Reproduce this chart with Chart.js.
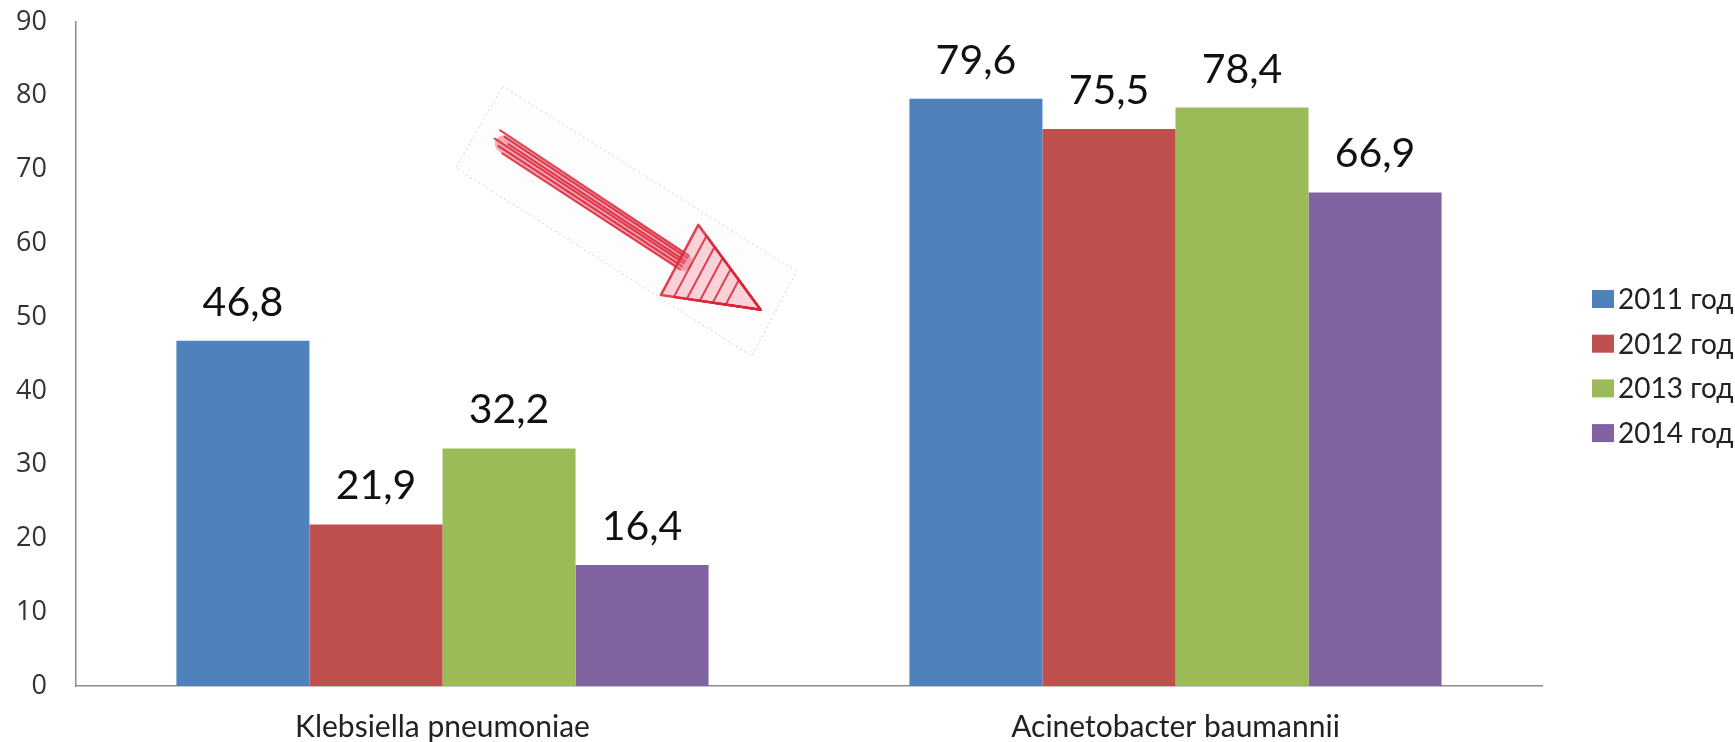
<!DOCTYPE html>
<html>
<head>
<meta charset="utf-8">
<script src="https://cdn.jsdelivr.net/npm/chart.js@4.4.1/dist/chart.umd.min.js"></script>
<style>
    html, body { margin: 0 ; padding: 0 ; background: #ffffff ; }
    #wrap { width: 1735px ; height: 742px ; position: relative ; }
</style>
</head>
<body>
<div id="wrap"><canvas id="barChartCanvas"></canvas></div>
<script>
// ---------------- Chart data -------------------------------------------------
var categories   = [ 'Klebsiella pneumoniae', 'Acinetobacter baumannii' ] ;
var seriesNames  = [ '2011 год', '2012 год', '2013 год', '2014 год' ] ;
var values2011   = [ 46.8, 79.6 ] ;
var values2012   = [ 21.9, 75.5 ] ;
var values2013   = [ 32.2, 78.4 ] ;
var values2014   = [ 16.4, 66.9 ] ;
var yTickValues  = [ 0, 10, 20, 30, 40, 50, 60, 70, 80, 90 ] ;

var seriesColors = [ '#4f81bd', '#c0504d', '#9bbb59', '#8064a2' ] ;

// ---------------- Dataset creation -------------------------------------------
function getDataset( idx, values ) {
    return {
        label           : seriesNames[ idx ],
        data            : values,
        backgroundColor : seriesColors[ idx ],
        borderWidth     : 0,
        categoryPercentage : 0.726,
        barPercentage   : 1.0
    } ;
}

// ---------------- Plugins ----------------------------------------------------
// value labels above the bars ( decimal comma )
var valueLabels = {
    id : 'valueLabels',
    afterDatasetsDraw : function( chart ) {
        var ctx = chart.ctx ;
        ctx.save() ;
        ctx.font = '41px Lato' ;
        ctx.fillStyle = '#111111' ;
        ctx.textAlign = 'center' ;
        ctx.textBaseline = 'alphabetic' ;
        chart.data.datasets.forEach( function( ds, i ) {
            var meta = chart.getDatasetMeta( i ) ;
            meta.data.forEach( function( bar, j ) {
                var txt = ds.data[ j ].toFixed( 1 ).replace( '.', ',' ) ;
                ctx.fillText( txt, bar.x, bar.y - 25 ) ;
            } ) ;
        } ) ;
        ctx.restore() ;
    }
} ;

// legend on the right, drawn from the datasets
var sideLegend = {
    id : 'sideLegend',
    afterDraw : function( chart ) {
        var ctx = chart.ctx ;
        var area = chart.chartArea ;
        ctx.save() ;
        ctx.font = '28px Lato' ;
        ctx.textBaseline = 'middle' ;
        chart.data.datasets.forEach( function( ds, i ) {
            var rowY = area.top + 277 + i * 44.7 ;
            var boxX = area.right + 50 ;
            ctx.fillStyle = ds.backgroundColor ;
            ctx.fillRect( boxX, rowY - 9, 22, 18 ) ;
            ctx.fillStyle = '#222222' ;
            ctx.fillText( ds.label, boxX + 26, rowY + 1 ) ;
        } ) ;
        ctx.restore() ;
    }
} ;

// the hand drawn arrow picture pasted over the chart
var sketchArrow = {
    id : 'sketchArrow',
    afterDraw : function( chart ) {
        var xs = chart.scales.x ;
        var ys = chart.scales.y ;
        var ctx = chart.ctx ;
        function P( xv, yv ) {
            return [ xs.getPixelForValue( xv ), ys.getPixelForValue( yv ) ] ;
        }
        ctx.save() ;

        // paper background
        var c = [ P( 0.082, 81.3 ), P( 0.483, 56.2 ), P( 0.422, 44.7 ), P( 0.018, 70.2 ) ] ;
        ctx.beginPath() ;
        ctx.moveTo( c[0][0], c[0][1] ) ;
        for( var k = 1; k < c.length; k++ ) { ctx.lineTo( c[k][0], c[k][1] ) ; }
        ctx.closePath() ;
        ctx.fillStyle = '#fdfdfd' ;
        ctx.fill() ;
        ctx.setLineDash( [ 2, 3 ] ) ;
        ctx.strokeStyle = 'rgba(180,180,180,0.6)' ;
        ctx.lineWidth = 1 ;
        ctx.stroke() ;
        ctx.setLineDash( [] ) ;

        // shaft
        var tail = P( 0.072, 74.3 ) ;
        var neck = P( 0.330, 57.4 ) ;
        var dx = neck[0] - tail[0], dy = neck[1] - tail[1] ;
        var len = Math.sqrt( dx*dx + dy*dy ) ;
        var nx = -dy / len, ny = dx / len ;

        ctx.lineCap = 'round' ;
        ctx.strokeStyle = 'rgba(232,95,118,0.5)' ;
        ctx.lineWidth = 17 ;
        ctx.beginPath() ;
        ctx.moveTo( tail[0] + 8, tail[1] + 6 ) ;
        ctx.lineTo( neck[0], neck[1] ) ;
        ctx.stroke() ;

        ctx.strokeStyle = 'rgba(220,38,58,0.85)' ;
        ctx.lineWidth = 2.2 ;
        var offs = [ -9, -6, -2, 1, 5, 9 ] ;
        offs.forEach( function( o, n ) {
            var sx = tail[0] + nx*o + ( n % 3 ) * 6 ;
            var sy = tail[1] + ny*o + ( n % 3 ) * 4 ;
            ctx.beginPath() ;
            ctx.moveTo( sx, sy ) ;
            ctx.lineTo( neck[0] + nx*o*0.9, neck[1] + ny*o*0.9 ) ;
            ctx.stroke() ;
        } ) ;

        // head
        var a = P( 0.349, 62.5 ) ;
        var b = P( 0.298, 53.0 ) ;
        var tip = P( 0.434, 51.0 ) ;
        ctx.beginPath() ;
        ctx.moveTo( a[0], a[1] ) ;
        ctx.lineTo( tip[0], tip[1] ) ;
        ctx.lineTo( b[0], b[1] ) ;
        ctx.closePath() ;
        ctx.fillStyle = 'rgba(240,130,150,0.35)' ;
        ctx.fill() ;
        ctx.lineJoin = 'round' ;
        for( var s = 0; s < 6; s++ ) {
            var f = s * 0.13 ;
            var ax = a[0] + ( tip[0] - a[0] ) * f, ay = a[1] + ( tip[1] - a[1] ) * f ;
            var bx = b[0] + ( tip[0] - b[0] ) * f, by = b[1] + ( tip[1] - b[1] ) * f ;
            ctx.lineWidth = ( s == 0 ) ? 2.6 : 2.0 ;
            ctx.beginPath() ;
            ctx.moveTo( ax, ay ) ;
            ctx.lineTo( tip[0], tip[1] ) ;
            ctx.lineTo( bx, by ) ;
            ctx.closePath() ;
            ctx.stroke() ;
        }
        ctx.restore() ;
    }
} ;

// ---------------- Chart options ----------------------------------------------
function clearScalePadding( scale ) {
    scale.paddingTop = 0 ;
    scale.paddingBottom = 0 ;
    scale.paddingLeft = 0 ;
    scale.paddingRight = 0 ;
}

function getScaleOptions() {
    return {
        x : {
            grid   : { display: false, drawTicks: false },
            border : { display: true, color: '#8c8c8c', width: 1.5 },
            afterFit : function( scale ) {
                clearScalePadding( scale ) ;
                scale.height = 56 ;
            },
            ticks  : {
                color   : '#222222',
                padding : 25,
                font    : { family: 'Lato', size: 30, lineHeight: 1.1 }
            }
        },
        y : {
            min : 0,
            max : 90,
            grid   : { display: false, drawTicks: false },
            border : { display: true, color: '#8c8c8c', width: 1.5 },
            afterFit : function( scale ) {
                clearScalePadding( scale ) ;
                scale.width = 76 ;
            },
            afterBuildTicks : function( axis ) {
                axis.ticks = yTickValues.map( function( v ) { return { value: v } ; } ) ;
            },
            ticks  : {
                color   : '#333333',
                padding : 29,
                font    : { family: 'Open Sans', size: 27 }
            }
        }
    } ;
}

function getChartOptions() {
    return {
        responsive          : true,
        maintainAspectRatio : false,
        animation           : false,
        layout : { padding: { left: 0, right: 193, top: 22, bottom: 0 } },
        plugins : {
            legend  : { display: false },
            tooltip : { enabled: false }
        },
        scales : getScaleOptions()
    } ;
}

// ---------------- Draw -------------------------------------------------------
var canvas = document.getElementById( 'barChartCanvas' ) ;
var chart = new Chart( canvas, {
    type : 'bar',
    data : {
        labels   : categories,
        datasets : [
            getDataset( 0, values2011 ),
            getDataset( 1, values2012 ),
            getDataset( 2, values2013 ),
            getDataset( 3, values2014 )
        ]
    },
    options : getChartOptions(),
    plugins : [ valueLabels, sketchArrow, sideLegend ]
} ) ;
</script>
</body>
</html>
